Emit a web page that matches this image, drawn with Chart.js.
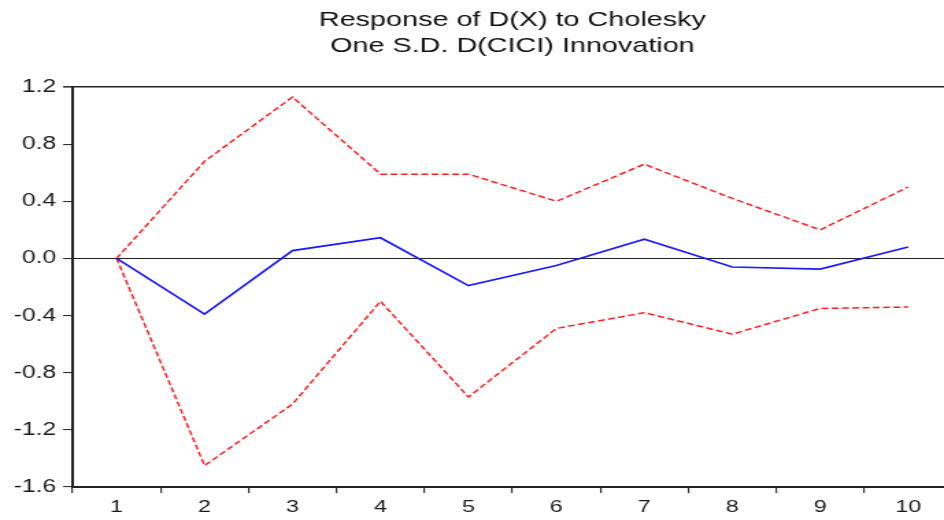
<!DOCTYPE html>
<html>
<head>
<meta charset="utf-8">
<script src="https://cdn.jsdelivr.net/npm/chart.js@4"></script>
<style>
  html, body { margin: 0; padding: 0; background: #fff; overflow: hidden; }
  /* EViews-style export is stretched wide, so draw narrow and widen the box */
  #wrap { width: 695px; height: 520px; transform: scaleX(1.37); transform-origin: 0 0; }
</style>
</head>
<body>
<div id="wrap"><canvas id="irf" width="695" height="520"></canvas></div>
<script>
const periods = ['1', '2', '3', '4', '5', '6', '7', '8', '9', '10'];
const response = [0, -0.39, 0.055, 0.145, -0.19, -0.05, 0.135, -0.06, -0.075, 0.08];
const upperBand = [0, 0.68, 1.13, 0.59, 0.59, 0.40, 0.66, 0.42, 0.20, 0.50];
const lowerBand = [0, -1.45, -1.02, -0.30, -0.97, -0.49, -0.38, -0.53, -0.35, -0.34];
const titleLines = ['Response of D(X) to Cholesky', 'One S.D. D(CICI) Innovation'];

const FONT = '"Liberation Sans", Arial, Helvetica, sans-serif';
const INK = '#1a1a1a';

const band = (data) => ({
  data,
  borderColor: '#ff2020',
  borderWidth: 1.5,
  borderDash: [5, 2.5],
  pointRadius: 0,
  tension: 0,
  fill: false
});

const near = (a, b) => Math.abs(a - b) < 1e-9;

new Chart(document.getElementById('irf'), {
  type: 'line',
  data: {
    labels: periods,
    datasets: [
      { data: response, borderColor: '#1a1aff', borderWidth: 1.7, pointRadius: 0, tension: 0, fill: false },
      band(upperBand),
      band(lowerBand)
    ]
  },
  options: {
    responsive: false,
    animation: false,
    layout: { padding: 0 },
    plugins: {
      legend: { display: false },
      tooltip: { enabled: false },
      title: {
        display: true,
        text: titleLines,
        fullSize: false,
        color: '#111',
        font: { family: FONT, size: 21, weight: 'normal', lineHeight: 1.2 },
        padding: { top: 8, bottom: 28.6 }
      }
    },
    scales: {
      x: {
        offset: true,
        grid: { offset: true, drawOnChartArea: false, tickLength: 6, tickColor: '#333', lineWidth: 1.2 },
        border: { display: true, width: 2, color: '#222' },
        ticks: { color: INK, padding: 4, maxRotation: 0, font: { family: FONT, size: 17 } },
        afterFit: (axis) => { axis.height = 33; }
      },
      y: {
        min: -1.6,
        max: 1.2,
        grid: {
          drawOnChartArea: true,
          tickLength: 7,
          tickColor: '#333',
          // only the zero line and the top frame show inside the plot
          color: (ctx) => (ctx.tick && (near(ctx.tick.value, 0) || near(ctx.tick.value, 1.2))) ? '#222' : 'rgba(0,0,0,0)',
          lineWidth: (ctx) => (ctx.tick && near(ctx.tick.value, 1.2)) ? 1.6 : 1.1
        },
        border: { display: true, width: 2, color: '#222' },
        ticks: {
          stepSize: 0.4,
          color: INK,
          padding: 5,
          font: { family: FONT, size: 18 },
          callback: (v) => near(v, 0) ? '0.0' : Number(v).toFixed(1)
        },
        afterFit: (axis) => { axis.width = 53; }
      }
    }
  }
});
</script>
</body>
</html>
